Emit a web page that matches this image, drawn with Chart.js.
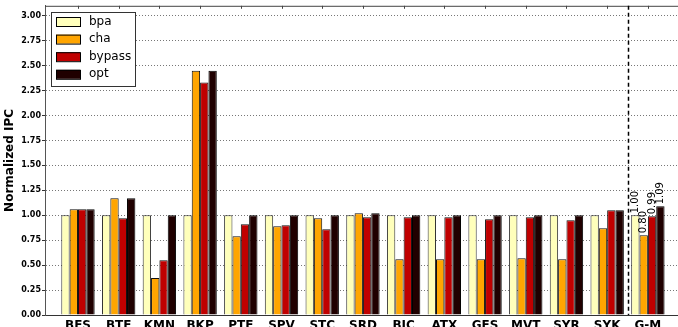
<!DOCTYPE html>
<html>
<head>
<meta charset="utf-8">
<script src="https://cdn.jsdelivr.net/npm/chart.js@4"></script>
<style>
  html, body { margin: 0; padding: 0; background: #fff; overflow: hidden; }
  #wrap { width: 678px; height: 338px; }
</style>
</head>
<body>
<div id="wrap"><canvas id="myChart" width="678" height="338"></canvas></div>
<script>
// data
const categories = ['BFS', 'BTE', 'KMN', 'BKP', 'PTF', 'SPV', 'STC', 'SRD', 'BIC', 'ATX', 'GES', 'MVT', 'SYR', 'SYK', 'G-M'];
const bpa    = [1.00, 1.00, 1.00, 1.00, 1.00, 1.00, 1.00, 1.00, 1.00, 1.00, 1.00, 1.00, 1.00, 1.00, 1.00];
const cha    = [1.06, 1.17, 0.37, 2.45, 0.79, 0.89, 0.97, 1.02, 0.56, 0.56, 0.56, 0.57, 0.56, 0.87, 0.80];
const bypass = [1.06, 0.97, 0.55, 2.33, 0.91, 0.90, 0.86, 0.98, 0.98, 0.98, 0.96, 0.98, 0.95, 1.05, 0.99];
const opt    = [1.06, 1.17, 1.00, 2.45, 1.00, 1.00, 1.00, 1.02, 1.00, 1.00, 1.00, 1.00, 1.00, 1.05, 1.09];
const yTicks = [0, 0.25, 0.5, 0.75, 1.0, 1.25, 1.5, 1.75, 2.0, 2.25, 2.5, 2.75, 3.0];

const toPoints = arr => arr.map((v, i) => ({ x: i, y: v }));

// legend box, dashed separator, top frame, value labels on G-M
const extras = {
  id: 'extras',
  afterDatasetsDraw(chart) {
    const ctx = chart.ctx;
    const area = chart.chartArea;
    const xs = chart.scales.x;

    ctx.save();
    // top spine + inward ticks
    ctx.strokeStyle = '#444';
    ctx.lineWidth = 1;
    ctx.beginPath();
    ctx.moveTo(area.left, area.top + 0.5);
    ctx.lineTo(area.right, area.top + 0.5);
    categories.forEach((c, i) => {
      const px = Math.round(xs.getPixelForValue(i)) + 0.5;
      ctx.moveTo(px, area.top);
      ctx.lineTo(px, area.top + 3);
    });
    ctx.stroke();

    // dashed line before G-M
    const dx = Math.round(xs.getPixelForValue(13.5)) + 0.5;
    ctx.strokeStyle = '#000';
    ctx.lineWidth = 1.5;
    ctx.setLineDash([4, 3]);
    ctx.beginPath();
    ctx.moveTo(dx, area.top);
    ctx.lineTo(dx, area.bottom);
    ctx.stroke();
    ctx.setLineDash([]);

    // value labels for the last group
    ctx.fillStyle = '#000';
    ctx.font = '10px "DejaVu Sans"';
    ctx.textAlign = 'left';
    ctx.textBaseline = 'middle';
    chart.data.datasets.forEach((ds, di) => {
      const bar = chart.getDatasetMeta(di).data[categories.length - 1];
      const val = ds.data[categories.length - 1].y;
      ctx.save();
      ctx.translate(bar.x, bar.y - 2);
      ctx.rotate(-Math.PI / 2);
      ctx.fillText(val.toFixed(2), 0, 0);
      ctx.restore();
    });

    // legend
    const lx = 51, ly = 12, lw = 84, lh = 74;
    ctx.fillStyle = '#fff';
    ctx.fillRect(lx, ly, lw, lh);
    ctx.strokeStyle = '#333';
    ctx.lineWidth = 1;
    ctx.strokeRect(lx + 0.5, ly + 0.5, lw, lh);
    ctx.font = '12px "DejaVu Sans"';
    ctx.textBaseline = 'middle';
    chart.data.datasets.forEach((ds, di) => {
      const sy = ly + 5 + di * 17.6;
      ctx.fillStyle = ds.backgroundColor;
      ctx.fillRect(56, sy, 24, 9);
      ctx.strokeStyle = '#000';
      ctx.strokeRect(56.5, sy + 0.5, 24, 9);
      ctx.fillStyle = '#000';
      ctx.fillText(ds.label, 89, sy + 4.5);
    });
    ctx.restore();
  }
};

const context = document.getElementById('myChart').getContext('2d');
const myChart = new Chart(context, {
  type: 'bar',
  data: {
    datasets: [
      { label: 'bpa', data: toPoints(bpa), backgroundColor: '#FFFFBB', borderColor: '#333', borderWidth: 1 },
      { label: 'cha', data: toPoints(cha), backgroundColor: '#FFA500', borderColor: '#111', borderWidth: 1 },
      { label: 'bypass', data: toPoints(bypass), backgroundColor: '#C00000', borderColor: '#111', borderWidth: 1 },
      { label: 'opt', data: toPoints(opt), backgroundColor: '#200000', borderColor: '#000', borderWidth: 1 },
    ],
  },
  options: {
    responsive: false,
    animation: false,
    maintainAspectRatio: false,
    categoryPercentage: 0.82,
    barPercentage: 1.0,
    layout: { padding: { top: 5, right: 0, left: 0, bottom: 0 } },
    plugins: {
      legend: { display: false },
      tooltip: { enabled: false },
    },
    scales: {
      x: {
        type: 'linear',
        offset: false,
        min: -0.81,
        max: 14.74,
        afterBuildTicks: scale => { scale.ticks = categories.map((c, i) => ({ value: i })); },
        afterFit: scale => { scale.height = 23; },
        ticks: {
          autoSkip: false,
          maxRotation: 0,
          padding: 4,
          color: '#000',
          font: { family: 'DejaVu Sans', size: 12, weight: 'bold' },
          callback: v => categories[v],
        },
        grid: { display: true, drawOnChartArea: false, drawTicks: false },
        border: { color: '#333' },
      },
      y: {
        min: 0,
        max: 3.1,
        afterBuildTicks: scale => { scale.ticks = yTicks.map(v => ({ value: v })); },
        afterFit: scale => { scale.width = 45; },
        ticks: {
          padding: 1,
          color: '#000',
          font: { family: 'DejaVu Sans', size: 8, weight: 'bold' },
          callback: v => v.toFixed(2),
        },
        grid: {
          color: '#777',
          tickLength: 3,
          tickColor: '#333',
          tickBorderDash: [],
        },
        border: { color: '#555', dash: [1, 2] },
        title: {
          display: true,
          text: 'Normalized IPC',
          color: '#000',
          padding: { top: 3, bottom: 0 },
          font: { family: 'DejaVu Sans', size: 12, weight: 'bold' },
        },
      },
    },
  },
  plugins: [extras],
});
</script>
</body>
</html>
